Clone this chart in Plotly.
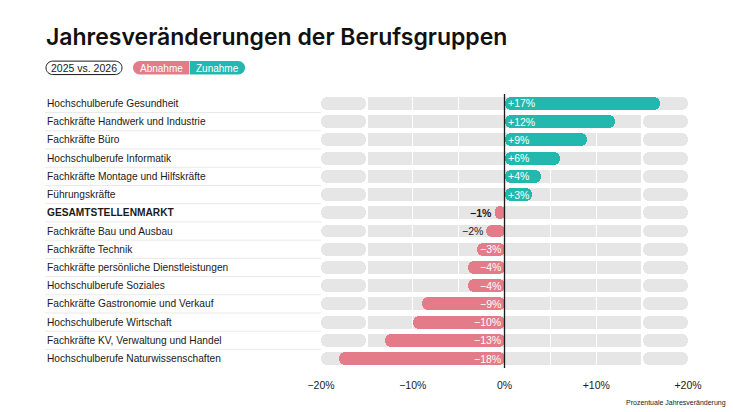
import plotly.graph_objects as go

categories = [
    "Hochschulberufe Gesundheit",
    "Fachkräfte Handwerk und Industrie",
    "Fachkräfte Büro",
    "Hochschulberufe Informatik",
    "Fachkräfte Montage und Hilfskräfte",
    "Führungskräfte",
    "GESAMTSTELLENMARKT",
    "Fachkräfte Bau und Ausbau",
    "Fachkräfte Technik",
    "Fachkräfte persönliche Dienstleistungen",
    "Hochschulberufe Soziales",
    "Fachkräfte Gastronomie und Verkauf",
    "Hochschulberufe Wirtschaft",
    "Fachkräfte KV, Verwaltung und Handel",
    "Hochschulberufe Naturwissenschaften",
]
values = [17, 12, 9, 6, 4, 3, -1, -2, -3, -4, -4, -9, -10, -13, -18]
total_label = "GESAMTSTELLENMARKT"
tick_vals = [-20, -10, 0, 10, 20]
tick_text = ["−20%", "−10%", "0%", "+10%", "+20%"]

TEAL = "#22b8ae"
PINK = "#e37b88"
GRAY = "#e6e6e6"
DARK = "#1a1a1a"
FONT = "Liberation Sans"
TFONT = "Inter"

W, H = 733, 412
L, R, T, B = 321, 688, 93.5, 368.5
PW, PH = R - L, B - T


def px(x):
    return (x - L) / PW


def py(y):
    return (B - y) / PH


def rrect(x0, y0, x1, y1, rl, rr):
    k = 0.5523
    d = f"M{px(x0 + rl)},{py(y0)} L{px(x1 - rr)},{py(y0)} "
    if rr > 0:
        d += (f"C{px(x1 - rr + rr * k)},{py(y0)} {px(x1)},{py(y0 + rr - rr * k)} {px(x1)},{py(y0 + rr)} "
              f"L{px(x1)},{py(y1 - rr)} "
              f"C{px(x1)},{py(y1 - rr + rr * k)} {px(x1 - rr + rr * k)},{py(y1)} {px(x1 - rr)},{py(y1)} ")
    else:
        d += f"L{px(x1)},{py(y1)} "
    d += f"L{px(x0 + rl)},{py(y1)} "
    if rl > 0:
        d += (f"C{px(x0 + rl - rl * k)},{py(y1)} {px(x0)},{py(y1 - rl + rl * k)} {px(x0)},{py(y1 - rl)} "
              f"L{px(x0)},{py(y0 + rl)} "
              f"C{px(x0)},{py(y0 + rl - rl * k)} {px(x0 + rl - rl * k)},{py(y0)} {px(x0 + rl)},{py(y0)} ")
    else:
        d += f"L{px(x0)},{py(y0)} "
    return d + "Z"


RAD = 6.5
fig = go.Figure()

# background gray track split into segments (white gaps act as grid lines)
gap = 0.08
segs = [(-15 - gap, -20, True), (-10 - gap, -15 + gap, False), (-5 - gap, -10 + gap, False),
        (-5 + gap, 5 - gap, False), (5 + gap, 10 - gap, False), (10 + gap, 15 - gap, False),
        (15 + gap, 20, True)]
n = len(categories)
for base, end, rounded in segs:
    fig.add_trace(go.Bar(
        y=categories, x=[end - base] * n, base=[base] * n, orientation="h",
        marker=dict(color=GRAY, cornerradius=RAD if rounded else 0, line=dict(width=0)),
        width=0.71, hoverinfo="skip", showlegend=False,
    ))

colors = [TEAL if v > 0 else PINK for v in values]
fig.add_trace(go.Bar(
    y=categories, x=values, base=[0] * n, orientation="h",
    marker=dict(color=colors, cornerradius=RAD, line=dict(width=0)),
    width=0.71, showlegend=False,
))

annotations = []
shapes = []
for i, (c, v) in enumerate(zip(categories, values)):
    bold = c == total_label
    lab = f"<b>{c}</b>" if bold else c
    annotations.append(dict(x=px(45), xref="paper", y=c, yref="y", text=lab, showarrow=False,
                            xanchor="left", yanchor="middle",
                            font=dict(family=FONT, size=10.2, color=DARK)))
    if i < n - 1:
        shapes.append(dict(type="line", xref="paper", yref="y", x0=px(45), x1=px(321),
                           y0=i + 0.5, y1=i + 0.5, line=dict(color="#e9e9e9", width=1), layer="below"))
    # value label
    s = ("+" if v > 0 else "−") + f"{abs(v)}%"
    if bold:
        s = f"<b>{s}</b>"
    if v > 0:
        ann = dict(x=0, xanchor="left", xshift=1.5, color="white")
    elif v > -3:
        ann = dict(x=v, xanchor="right", xshift=-1.5, color=DARK)
    else:
        ann = dict(x=0, xanchor="right", xshift=-1.5, color="white")
    annotations.append(dict(x=ann["x"], xref="x", y=c, yref="y", text=s, showarrow=False,
                            xanchor=ann["xanchor"], xshift=ann["xshift"], yanchor="middle",
                            font=dict(family=FONT, size=10.5, color=ann["color"])))

# zero line
shapes.append(dict(type="line", xref="x", yref="paper", x0=0, x1=0, y0=0, y1=1,
                   line=dict(color=DARK, width=1.3), layer="above"))

# legend pills
shapes.append(dict(type="path", xref="paper", yref="paper", path=rrect(46, 60.5, 122, 74, 6.75, 6.75),
                   line=dict(color=DARK, width=1), fillcolor="white", layer="below"))
shapes.append(dict(type="path", xref="paper", yref="paper", path=rrect(133, 60.5, 189, 74, 6.75, 0),
                   line=dict(width=0), fillcolor=PINK, layer="below"))
shapes.append(dict(type="path", xref="paper", yref="paper", path=rrect(189.6, 60.5, 245, 74, 0, 6.75),
                   line=dict(width=0), fillcolor=TEAL, layer="below"))
annotations += [
    dict(x=px(84), y=py(67.5), xref="paper", yref="paper", text="2025 vs. 2026", showarrow=False,
         xanchor="center", yanchor="middle", font=dict(family=FONT, size=10.5, color=DARK)),
    dict(x=px(161), y=py(67.5), xref="paper", yref="paper", text="Abnahme", showarrow=False,
         xanchor="center", yanchor="middle", font=dict(family=FONT, size=10, color="white")),
    dict(x=px(217), y=py(67.5), xref="paper", yref="paper", text="Zunahme", showarrow=False,
         xanchor="center", yanchor="middle", font=dict(family=FONT, size=10, color="white")),
    dict(x=px(44), y=py(36), xref="paper", yref="paper", text="Jahresveränderungen der Berufsgruppen",
         showarrow=False, xanchor="left", yanchor="middle",
         font=dict(family=TFONT, size=23, color="#111", weight=600)),
    dict(x=px(728), y=py(404), xref="paper", yref="paper", text="Prozentuale Jahresveränderung",
         showarrow=False, xanchor="right", yanchor="middle",
         font=dict(family=FONT, size=7, color=DARK)),
]

fig.update_layout(
    width=W, height=H,
    margin=dict(l=L, r=W - R, t=T, b=H - B, pad=0),
    paper_bgcolor="white", plot_bgcolor="white",
    barmode="overlay", bargap=0, barcornerradius=RAD,
    annotations=annotations, shapes=shapes,
    xaxis=dict(range=[-20, 20], tickvals=tick_vals, ticktext=tick_text, showgrid=False,
               zeroline=False, showline=False, ticks="outside", ticklen=7,
               tickcolor="rgba(0,0,0,0)", tickfont=dict(family=FONT, size=10.5, color=DARK),
               fixedrange=True),
    yaxis=dict(categoryorder="array", categoryarray=categories, range=[n - 1 + 0.52, -0.52],
               showticklabels=False, showgrid=False, zeroline=False, ticks="", fixedrange=True),
    font=dict(family=FONT),
)

fig.write_html("out.html")
